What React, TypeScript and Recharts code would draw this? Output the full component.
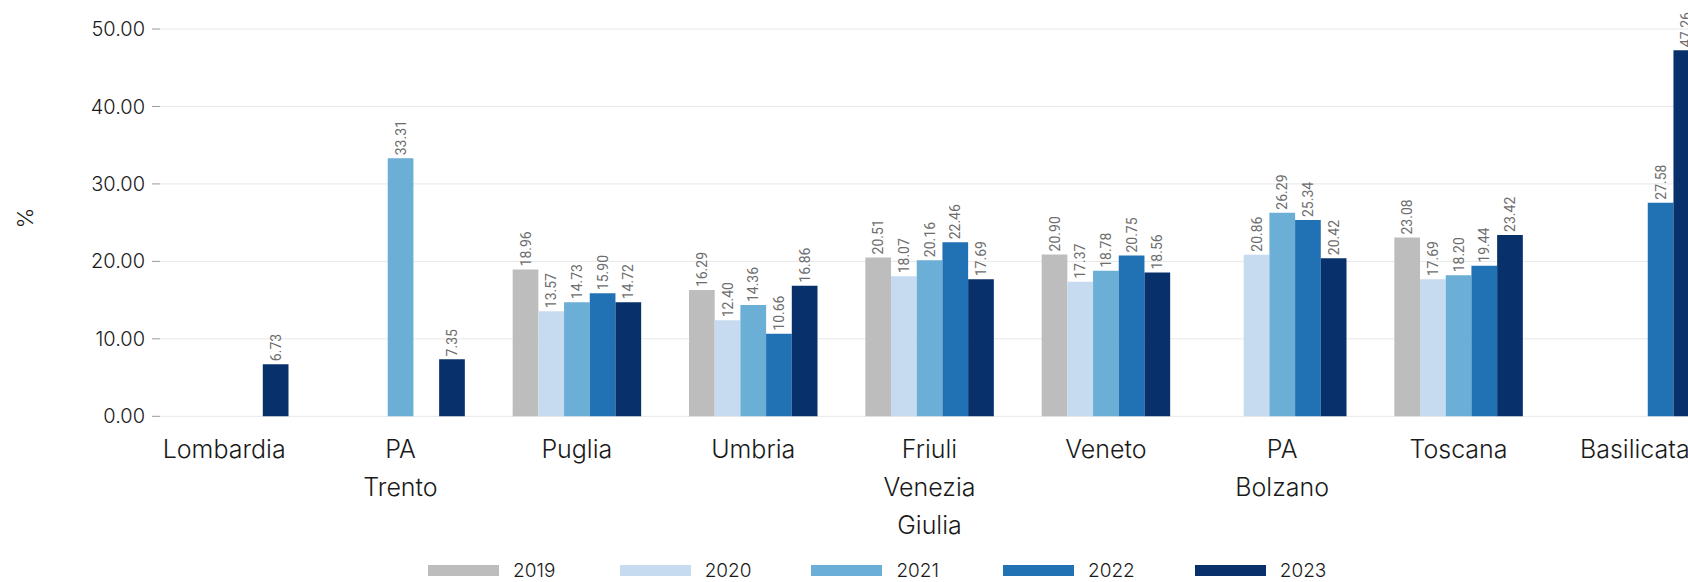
import { BarChart, Bar, XAxis, YAxis, CartesianGrid, Legend, LabelList } from 'recharts';

const CATEGORIES = ['Lombardia', 'PA Trento', 'Puglia', 'Umbria', 'Friuli Venezia Giulia', 'Veneto', 'PA Bolzano', 'Toscana', 'Basilicata'];
const YEARS = ['2019', '2020', '2021', '2022', '2023'];
const COLORS = ['#bdbdbd', '#c6dbef', '#6baed6', '#2171b5', '#08306b'];

const V2019 = [null, null, 18.96, 16.29, 20.51, 20.9, null, 23.08, null];
const V2020 = [null, null, 13.57, 12.4, 18.07, 17.37, 20.86, 17.69, null];
const V2021 = [null, 33.31, 14.73, 14.36, 20.16, 18.78, 26.29, 18.2, null];
const V2022 = [null, null, 15.9, 10.66, 22.46, 20.75, 25.34, 19.44, 27.58];
const V2023 = [6.73, 7.35, 14.72, 16.86, 17.69, 18.56, 20.42, 23.42, 47.26];

const Y_TICKS = [0, 10, 20, 30, 40, 50];

const SERIES = [V2019, V2020, V2021, V2022, V2023];

const data = CATEGORIES.map((name, i) => {
  const row: any = { name };
  YEARS.forEach((y, k) => {
    row[y] = SERIES[k][i];
  });
  return row;
});

const FONT = 'Inter, "Noto Sans", sans-serif';

function CategoryTick({ x, y, payload }: any) {
  const words = String(payload.value).split(' ');
  return (
    <text x={x} y={y + 42} textAnchor="middle" fill="#1a1a1a" fontSize={25} fontWeight={300} fontFamily={FONT}>
      {words.map((w, i) => (
        <tspan key={i} x={x} dy={i === 0 ? 0 : 37.7}>
          {w}
        </tspan>
      ))}
    </text>
  );
}

function BarValue(props: any) {
  const { x, y, width, value } = props;
  if (value === null || value === undefined) return null;
  const cx = x + width / 2;
  const ty = y - 3;
  return (
    <text
      x={cx}
      y={ty}
      transform={`rotate(-90 ${cx} ${ty})`}
      textAnchor="start"
      dominantBaseline="central"
      fill="#6d6d6d"
      fontSize={14}
      fontFamily='Roboto, sans-serif'
    >
      {Number(value).toFixed(2)}
    </text>
  );
}

function LegendContent() {
  return (
    <div style={{ display: 'flex', alignItems: 'center', height: 24, paddingLeft: 428, fontFamily: FONT }}>
      {YEARS.map((y, i) => (
        <div key={y} style={{ display: 'flex', alignItems: 'center', width: 191.7 }}>
          <div style={{ width: 71, height: 11, background: COLORS[i], marginRight: 14 }} />
          <span style={{ fontSize: 19, fontWeight: 300, color: '#1a1a1a' }}>{y}</span>
        </div>
      ))}
    </div>
  );
}

export default function App() {
  return (
    <div style={{ position: 'fixed', left: 0, top: 0, width: 1688, height: 582, overflow: 'hidden', background: '#fff' }}>
      <BarChart
        width={1760}
        height={582}
        data={data}
        margin={{ top: 29, right: 37, bottom: 0, left: 0 }}
        barSize={25.7}
        barGap={0}
      >
        <CartesianGrid vertical={false} stroke="#e8e8e8" />
        <XAxis
          dataKey="name"
          interval={0}
          tickLine={false}
          axisLine={false}
          tickSize={0}
          tickMargin={0}
          height={141.7}
          padding={{ left: -24, right: 0 }}
          tick={<CategoryTick />}
        />
        <YAxis
          domain={[0, 50]}
          ticks={Y_TICKS}
          tickFormatter={(v) => Number(v).toFixed(2)}
          width={160}
          tickSize={8}
          tickMargin={7}
          axisLine={false}
          tickLine={{ stroke: '#9a9a9a' }}
          tick={{ fontSize: 20, fill: '#1a1a1a', fontWeight: 300, fontFamily: FONT }}
          label={{
            content: () => (
              <text
                x={25}
                y={218}
                transform="rotate(-90 25 218)"
                textAnchor="middle"
                dominantBaseline="central"
                fontSize={22}
                fontWeight={300}
                fill="#1a1a1a"
                fontFamily={FONT}
              >
                %
              </text>
            ),
          }}
        />
        <Legend verticalAlign="bottom" content={<LegendContent />} wrapperStyle={{ left: 0, bottom: 0, width: 1760, height: 24 }} />
        {YEARS.map((y, i) => (
          <Bar key={y} dataKey={y} fill={COLORS[i]} isAnimationActive={false}>
            <LabelList dataKey={y} content={<BarValue />} />
          </Bar>
        ))}
      </BarChart>
    </div>
  );
}
